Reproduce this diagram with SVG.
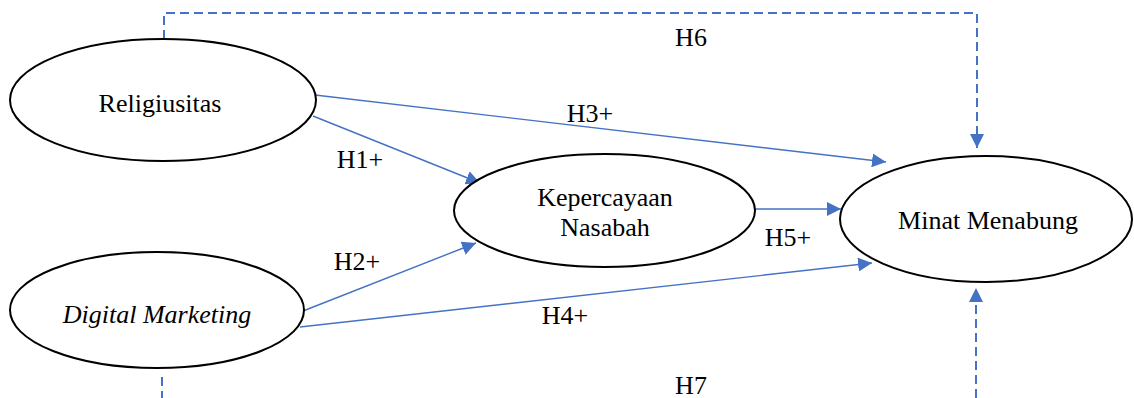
<svg xmlns="http://www.w3.org/2000/svg" width="1134" height="398" viewBox="0 0 1134 398">
<defs>
<marker id="arr" markerUnits="userSpaceOnUse" markerWidth="15" markerHeight="14" refX="14" refY="7" orient="auto">
<path d="M0,0 L14,7 L0,14 z" fill="#4472C4"/>
</marker>
<style>
.node{fill:#fff;stroke:#000;stroke-width:2}
.lbl{font-family:"Liberation Serif","Times New Roman",serif;font-size:26px;fill:#000;text-anchor:middle}
.c{stroke:#4472C4;stroke-width:1.4;fill:none;marker-end:url(#arr)}
.d{stroke:#4472C4;stroke-width:2;fill:none;stroke-dasharray:9 5}
</style>
</defs>
<rect width="1134" height="398" fill="#fff"/>
<g id="connectors">
<polyline class="d" points="164,39 164,13 977,13 977,148" marker-end="url(#arr)"/>
<polyline class="d" points="976,398 976,288" marker-end="url(#arr)"/>
<line class="d" x1="162" y1="377" x2="162" y2="398"/>
<line class="c" x1="315" y1="95" x2="886" y2="162"/>
<line class="c" x1="313" y1="116" x2="480" y2="183"/>
<line class="c" x1="755" y1="209" x2="841" y2="209"/>
<line class="c" x1="303" y1="311" x2="476" y2="243"/>
<line class="c" x1="300" y1="327" x2="872" y2="263"/>
<text class="lbl" x="691" y="46">H6</text>
<text class="lbl" x="590" y="122">H3+</text>
<text class="lbl" x="360" y="168">H1+</text>
<text class="lbl" x="788" y="246">H5+</text>
<text class="lbl" x="357" y="270">H2+</text>
<text class="lbl" x="565" y="324">H4+</text>
<text class="lbl" x="691" y="394">H7</text>
</g>
<g id="religiusitas">
<ellipse class="node" cx="163" cy="100" rx="153" ry="61"/>
<text class="lbl" x="160" y="112">Religiusitas</text>
</g>
<g id="digital-marketing">
<ellipse class="node" cx="157" cy="310" rx="147" ry="58"/>
<text class="lbl" x="157" y="323" font-style="italic">Digital Marketing</text>
</g>
<g id="kepercayaan-nasabah">
<ellipse class="node" cx="604.5" cy="210.5" rx="150.5" ry="56.5"/>
<text class="lbl" x="605" y="206">Kepercayaan</text>
<text class="lbl" x="605" y="236">Nasabah</text>
</g>
<g id="minat-menabung">
<ellipse class="node" cx="986" cy="219" rx="146" ry="63"/>
<text class="lbl" x="988" y="229">Minat Menabung</text>
</g>
</svg>
